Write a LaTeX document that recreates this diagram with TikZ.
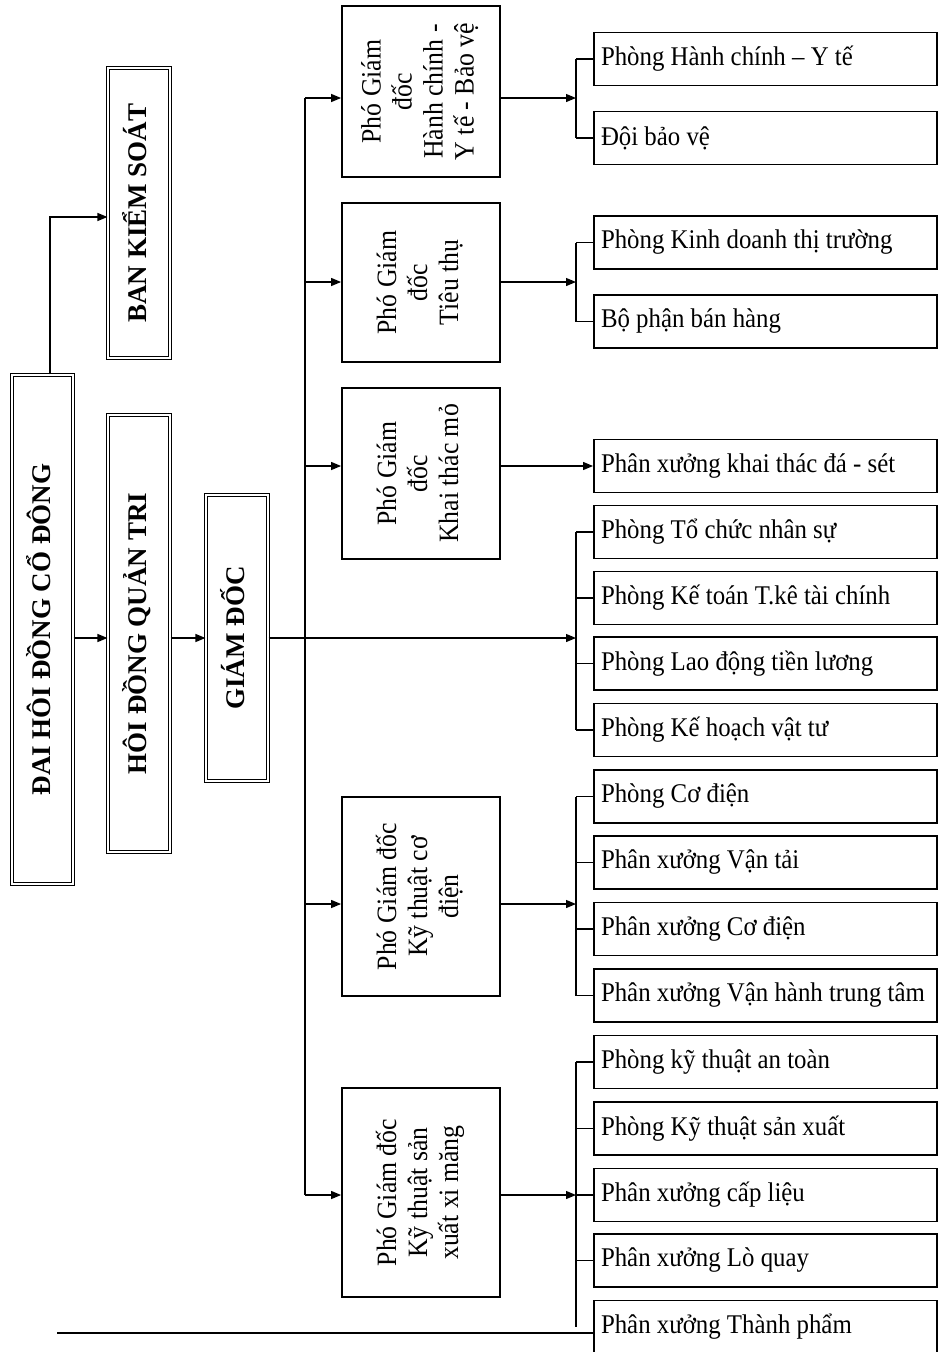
\documentclass[tikz,border=0pt]{standalone}
\usepackage{fontspec}
\setmainfont{Liberation Serif}
\newfontfamily\narrowfont[FakeStretch=0.92]{Liberation Serif}
\usepackage{graphicx}
\usetikzlibrary{arrows.meta,positioning,calc}

\newcommand{\uptext}[1]{\rotatebox{90}{\begin{tabular}{@{}c@{}}#1\end{tabular}}}
\newcommand{\unittext}[1]{\makebox[329pt][l]{#1}}

\begin{document}
\begin{tikzpicture}[x=1pt,y=-1pt,
    board/.style={draw, double, double distance=2.4pt, line width=1.1pt, inner sep=0pt,
      font=\bfseries\fontsize{27}{30}\selectfont},
    deputy/.style={draw, line width=1.8pt, minimum width=158pt, inner sep=0pt,
      font=\narrowfont\fontsize{28}{31}\selectfont},
    unit/.style={draw, line width=1.9pt, minimum height=53pt, minimum width=343pt,
      inner xsep=7pt, inner ysep=0pt, font=\narrowfont\fontsize{27}{30}\selectfont},
    link/.style={line width=1.2pt},
    arr/.style={link, -{Triangle[length=10pt,width=8pt]}}]
        \useasboundingbox (0,0) rectangle (939,1352);
        % Khối lãnh đạo (bên trái)
        \node[board, minimum width=61pt, minimum height=509pt] (dhcd) at (42.5,629.5) {\uptext{ĐAI HÔI ĐỒNG CỔ ĐÔNG}};
        \node[board, minimum width=62pt, minimum height=437pt] (hdqt) at (139,633.5) {\uptext{HÔI ĐỒNG QUẢN TRI}};
        \node[board, minimum width=62pt, minimum height=290pt] (bks) at (139,213) {\uptext{BAN KIỂM SOÁT}};
        \node[board, minimum width=62pt, minimum height=286pt] (gd) at (237,638) {\uptext{GIÁM ĐỐC}};
        % Các Phó Giám đốc
        \node[deputy, minimum height=171pt] (pgd1) at (421,91.5) {\uptext{Phó Giám\\đốc\\Hành chính -\\Y tế - Bảo vệ}};
        \node[deputy, minimum height=159pt] (pgd2) at (421,282.5) {\uptext{Phó Giám\\đốc\\Tiêu thụ}};
        \node[deputy, minimum height=171pt] (pgd3) at (421,473.5) {\uptext{Phó Giám\\đốc\\Khai thác mỏ}};
        \node[deputy, minimum height=199pt] (pgd4) at (421,896.5) {\uptext{Phó Giám đốc\\Kỹ thuật cơ\\điện}};
        \node[deputy, minimum height=209pt] (pgd5) at (421,1192.5) {\uptext{Phó Giám đốc\\Kỹ thuật sản\\xuất xi măng}};
        % Phòng ban, phân xưởng
        \node[unit] (u1) at (765.5,59) {\unittext{Phòng Hành chính – Y tế}};
        \node[unit] (u2) at (765.5,138) {\unittext{Đội bảo vệ}};
        \node[unit] (u3) at (765.5,242.5) {\unittext{Phòng Kinh doanh thị trường}};
        \node[unit] (u4) at (765.5,321.5) {\unittext{Bộ phận bán hàng}};
        \node[unit] (u5) at (765.5,466) {\unittext{Phân xưởng khai thác đá - sét}};
        \node[unit] (u6) at (765.5,532) {\unittext{Phòng Tổ chức nhân sự}};
        \node[unit] (u7) at (765.5,598) {\unittext{Phòng Kế toán T.kê tài chính}};
        \node[unit] (u8) at (765.5,663.5) {\unittext{Phòng Lao động tiền lương}};
        \node[unit] (u9) at (765.5,730) {\unittext{Phòng Kế hoạch vật tư}};
        \node[unit] (u10) at (765.5,796.5) {\unittext{Phòng Cơ điện}};
        \node[unit] (u11) at (765.5,862.5) {\unittext{Phân xưởng Vận tải}};
        \node[unit] (u12) at (765.5,929) {\unittext{Phân xưởng Cơ điện}};
        \node[unit] (u13) at (765.5,995.5) {\unittext{Phân xưởng Vận hành trung tâm}};
        \node[unit] (u14) at (765.5,1062) {\unittext{Phòng kỹ thuật an toàn}};
        \node[unit] (u15) at (765.5,1128.5) {\unittext{Phòng Kỹ thuật sản xuất}};
        \node[unit] (u16) at (765.5,1195) {\unittext{Phân xưởng cấp liệu}};
        \node[unit] (u17) at (765.5,1260.5) {\unittext{Phân xưởng Lò quay}};
        \node[unit] (u18) at (765.5,1327) {\unittext{Phân xưởng Thành phẩm}};
        % Điểm rẽ
        \coordinate (kup) at (50,217);
        \coordinate (j1) at (305,98);
        \coordinate (j2) at (305,282);
        \coordinate (j3) at (305,466);
        \coordinate (j4) at (305,904);
        \coordinate (j5) at (305,1195);
        \coordinate (bx) at (576,0);
        \coordinate (foot) at (57,1333);
        % Đường nối khối lãnh đạo
        \draw[arr] (kup |- dhcd.north) |- (bks.west |- kup);
        \draw[arr] (dhcd.east |- gd.east) -- (hdqt.west |- gd.east);
        \draw[arr] (hdqt.east |- gd.east) -- (gd.west);
        \draw[arr] (gd.east) -- (bx |- gd.east);
        % Trục dọc tới các Phó Giám đốc
        \draw[link] (j1) -- (j5);
        \foreach \j/\p in {j1/pgd1, j2/pgd2, j3/pgd3, j4/pgd4, j5/pgd5}
            \draw[arr] (\j) -- (\j -| \p.west);
        \foreach \j/\p in {j1/pgd1, j2/pgd2, j4/pgd4, j5/pgd5}
            \draw[arr] (\p.east |- \j) -- (bx |- \j);
        \draw[arr] (pgd3.east |- j3) -- (u5.west |- j3);
        % Nhánh tới phòng ban
        \draw[link] (bx |- u1) -- (bx |- u2);
        \draw[link] (bx |- u3) -- (bx |- u4);
        \draw[link] (bx |- u6) -- (bx |- u9);
        \draw[link] (bx |- u10) -- (bx |- u13);
        \draw[link] (bx |- u14) -- (bx |- u18);
        \foreach \u in {u1,u2,u3,u4,u6,u7,u8,u9,u10,u11,u12,u13,u14,u15,u16,u17}
            \draw[link] (bx |- \u) -- (\u.west);
        % Đường kẻ chân trang
        \draw[line width=1.8pt] (foot) -- (foot -| u18.west);
\end{tikzpicture}
\end{document}
